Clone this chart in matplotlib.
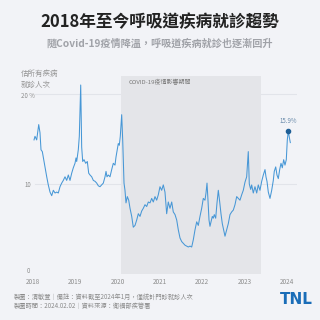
import numpy as np
import matplotlib
matplotlib.use("Agg")
import matplotlib.pyplot as plt
import matplotlib.transforms as mtrans

plt.rcParams['font.family'] = ['Noto Sans CJK TC', 'DejaVu Sans']

title = "2018年至今呼吸道疾病就診趨勢"
subtitle = "隨Covid-19疫情降溫，呼吸道疾病就診也逐漸回升"
ylabel = "估所有疾病\n就診人次"
shade_label = "COVID-19疫情影響期間"
footer1 = "製圖：清敏萱｜備註：資料截至2024年1月，僅統計門診就診人次"
footer2 = "製圖時間：2024.02.02｜資料來源：衛福部疾管署"

years = [2018.024, 2018.047, 2018.087, 2018.135, 2018.165, 2018.189, 2018.220, 2018.243,
         2018.283, 2018.324, 2018.361, 2018.402, 2018.442, 2018.480, 2018.520, 2018.560,
         2018.598, 2018.638, 2018.678, 2018.716, 2018.756, 2018.796, 2018.834, 2018.874,
         2018.914, 2018.952, 2018.992, 2019.016, 2019.032, 2019.070, 2019.094, 2019.127,
         2019.150, 2019.174, 2019.205, 2019.245, 2019.283, 2019.316, 2019.347, 2019.387,
         2019.425, 2019.465, 2019.505, 2019.543, 2019.583, 2019.623, 2019.661, 2019.701,
         2019.725, 2019.748, 2019.779, 2019.819, 2019.859, 2019.897, 2019.937, 2019.961,
         2019.991, 2020.015, 2020.039, 2020.062, 2020.095, 2020.119, 2020.150, 2020.173,
         2020.197, 2020.228, 2020.261, 2020.292, 2020.332, 2020.369, 2020.410, 2020.450,
         2020.488, 2020.528, 2020.568, 2020.606, 2020.646, 2020.686, 2020.724, 2020.764,
         2020.804, 2020.842, 2020.882, 2020.922, 2020.960, 2021.000, 2021.040, 2021.078,
         2021.118, 2021.158, 2021.196, 2021.236, 2021.277, 2021.314, 2021.355, 2021.395,
         2021.433, 2021.473, 2021.513, 2021.551, 2021.591, 2021.631, 2021.669, 2021.709,
         2021.749, 2021.787, 2021.827, 2021.867, 2021.905, 2021.945, 2021.985, 2022.023,
         2022.063, 2022.087, 2022.111, 2022.134, 2022.158, 2022.181, 2022.205, 2022.236,
         2022.259, 2022.283, 2022.316, 2022.347, 2022.378, 2022.411, 2022.441, 2022.472,
         2022.505, 2022.536, 2022.576, 2022.614, 2022.654, 2022.694, 2022.732, 2022.772,
         2022.812, 2022.850, 2022.890, 2022.930, 2022.968, 2023.008, 2023.048, 2023.086,
         2023.110, 2023.143, 2023.166, 2023.204, 2023.244, 2023.285, 2023.322, 2023.362,
         2023.403, 2023.441, 2023.481, 2023.504, 2023.528, 2023.559, 2023.599, 2023.639,
         2023.677, 2023.700, 2023.734, 2023.764, 2023.795, 2023.828, 2023.859, 2023.890,
         2023.922, 2023.953, 2023.984, 2024.008, 2024.031, 2024.055, 2024.079]

values = [14.9, 15.3, 14.9, 16.6, 15.7, 13.8, 13.6, 13.0,
          11.9, 10.8, 9.9, 9.1, 8.7, 9.3, 9.0, 9.1,
          9.0, 9.7, 10.1, 10.4, 10.8, 10.4, 11.0, 10.4,
          11.2, 11.8, 12.3, 12.9, 12.5, 13.8, 15.3, 21.0,
          14.1, 12.5, 12.7, 12.3, 12.5, 11.2, 11.0, 10.8,
          10.4, 10.3, 10.1, 9.8, 9.7, 9.9, 10.1, 10.8,
          11.4, 10.8, 11.0, 10.8, 11.6, 12.3, 12.1, 13.0,
          13.8, 14.5, 14.3, 15.3, 17.7, 14.9, 10.1, 9.3,
          7.9, 8.6, 8.2, 7.3, 6.4, 5.2, 5.4, 6.0,
          6.7, 6.4, 7.0, 7.3, 7.7, 7.5, 8.0, 7.9,
          8.4, 8.0, 8.6, 8.2, 8.8, 9.7, 9.3, 9.9,
          9.1, 6.7, 8.0, 7.3, 8.0, 6.9, 6.6, 6.0,
          4.9, 4.0, 3.6, 3.4, 3.2, 3.1, 3.0, 3.1,
          3.0, 3.8, 4.9, 5.8, 5.4, 6.4, 7.3, 8.4,
          8.2, 9.0, 10.1, 8.2, 6.0, 5.3, 5.8, 6.4,
          6.2, 6.6, 6.2, 7.9, 9.3, 8.0, 6.7, 5.6,
          4.9, 4.2, 4.9, 5.6, 6.6, 6.9, 7.1, 7.7,
          8.6, 8.4, 8.2, 8.8, 9.3, 10.2, 10.8, 13.6,
          10.0, 9.4, 9.9, 9.0, 9.7, 9.0, 9.9, 9.3,
          10.3, 11.0, 11.6, 10.8, 10.3, 9.1, 8.4, 9.3,
          10.4, 11.4, 11.9, 11.0, 10.6, 11.6, 12.3, 11.8,
          12.7, 12.1, 12.7, 14.9, 15.9, 15.2, 14.6]

xticks = [2018, 2019, 2020, 2021, 2022, 2023, 2024]
yticks = [0, 10, 20]
ytick_labels = ["0", "10", "20 %"]
shade_start, shade_end = 2020.08, 2023.38

bg = "#f2f3f7"
fig = plt.figure(figsize=(3.2, 3.2), dpi=100, facecolor=bg)
ax = fig.add_axes([30/320, 46/320, 267/320, 198/320], facecolor=bg)
ax.set_xlim(2017.929, 2024.237)
ax.set_ylim(0, 22)

for yv in yticks[1:]:
    ax.axhline(yv, color="#e2e4ea", lw=0.8, zorder=1, xmin=0.02)
ax.axvspan(shade_start, shade_end, color="#e4e5e9", zorder=2, lw=0)
ax.text(shade_start + 0.17, 21.6, shade_label, fontsize=4.3, color="#7a7a7a",
        va="top", ha="left", zorder=3)

ax.plot(years, values, color="#4797d6", lw=0.75, zorder=4)
yr = np.array(years); vals = np.array(values)
mask = yr > 2023.9
idx = np.where(mask)[0][np.argmax(vals[mask])]
ax.plot(yr[idx], vals[idx], 'o', color="#1f5f96", ms=3.0, zorder=5)
ax.text(yr[idx], vals[idx] + 0.7, f"{vals[idx]:.1f}%", fontsize=4.4, color="#6a8bab",
        ha="center", va="bottom", zorder=5)

for s in ax.spines.values():
    s.set_visible(False)
ax.set_xticks(xticks)
ax.set_xticklabels([str(t) for t in xticks], fontsize=4.6, color="#8d8d8d")
ax.tick_params(axis='x', length=0, pad=3)
ax.set_yticks([])

# y labels placed by hand next to the gridlines
ylab_shift_px = [3, -1, -2]
base = mtrans.blended_transform_factory(fig.transFigure, ax.transData)
for v, lab, dy in zip(yticks, ytick_labels, ylab_shift_px):
    tr = base + mtrans.ScaledTranslation(0, dy / 100, fig.dpi_scale_trans)
    fig.text(28/320, v, lab, transform=tr, fontsize=4.4, color="#8d8d8d",
             ha="center", va="center")

fig.text(21/320, 1 - 79.5/320, ylabel, fontsize=5.4, color="#949494", ha="left", va="center",
         linespacing=1.5)

fig.text(0.5, 1 - 22/320, title, fontsize=12, fontweight="bold", color="#222222",
         ha="center", va="center")
fig.text(0.5, 1 - 44/320, subtitle, fontsize=7.3, fontweight="bold", color="#a0a2a8",
         ha="center", va="center")

fig.text(14/320, 1 - 297/320, footer1, fontsize=4.5, color="#8a8a8a", ha="left", va="center")
fig.text(14/320, 1 - 306/320, footer2, fontsize=4.5, color="#8a8a8a", ha="left", va="center")
fig.text(296/320, 1 - 299/320, "TNL", fontsize=11, fontweight="heavy", color="#1a6db8",
         ha="center", va="center", family="DejaVu Sans")

fig.savefig("out.png", dpi=100, facecolor=bg)
